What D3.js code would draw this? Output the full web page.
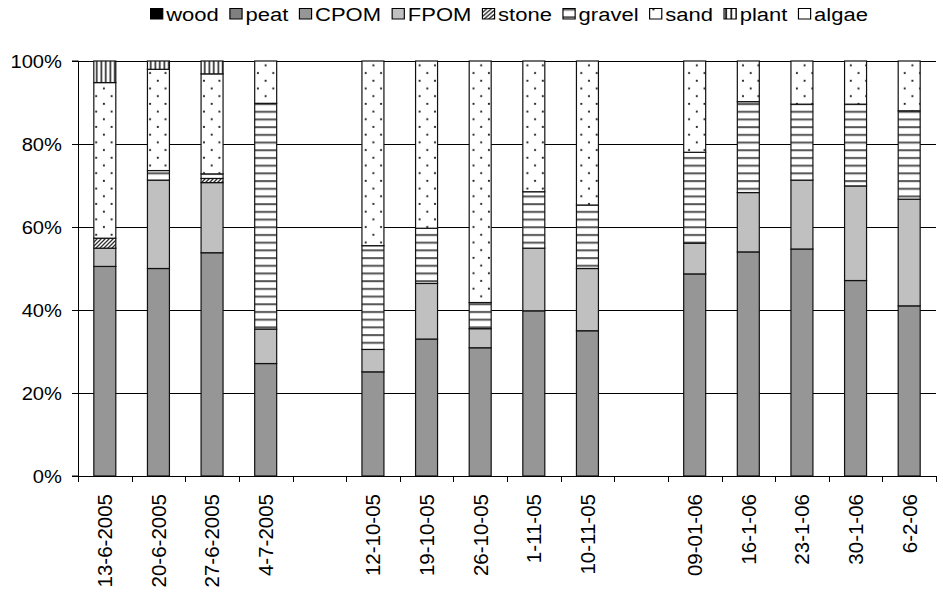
<!DOCTYPE html>
<html>
<head>
<meta charset="utf-8">
<script src="https://cdn.jsdelivr.net/npm/d3@7"></script>
<style>
  html, body { margin: 0; padding: 0; background: #fff; }
  svg { display: block; font-family: "Liberation Sans", Arial, sans-serif; }
</style>
</head>
<body>
<svg id="chart" width="943" height="596"></svg>
<script>
// Sampling dates (empty strings are gaps between campaigns)
const categories = ["13-6-2005","20-6-2005","27-6-2005","4-7-2005","",
  "12-10-05","19-10-05","26-10-05","1-11-05","10-11-05","",
  "09-01-06","16-1-06","23-1-06","30-1-06","6-2-06"];

// Substrate cover per date, in percent
const wood   = [0,0,0,0,0, 0,0,0,0,0, 0, 0,0,0,0,0];
const peat   = [0,0,0,0,0, 0,0,0,0,0, 0, 0,0,0,0,0];
const cpom   = [50.5,50.0,53.8,27.1,0, 25.1,33.0,30.9,39.8,35.0, 0, 48.7,54.0,54.7,47.1,41.0];
const fpom   = [4.4,21.3,16.9,8.3,0, 5.4,13.4,4.6,15.1,15.0, 0, 7.4,14.3,16.6,22.8,25.7];
const stone  = [2.4,0,1.0,0,0, 0,0,0,0,0, 0, 0,0,0,0,0];
const gravel = [0,2.3,1.1,54.4,0, 25.0,13.3,6.3,13.6,15.3, 0, 21.9,21.9,18.3,19.7,21.3];
const sand   = [37.5,24.4,24.1,10.2,0, 44.5,40.3,58.2,31.5,34.7, 0, 22.0,9.8,10.4,10.4,12.0];
const plant  = [5.2,2.0,3.1,0,0, 0,0,0,0,0, 0, 0,0,0,0,0];
const algae  = [0,0,0,0,0, 0,0,0,0,0, 0, 0,0,0,0,0];

const seriesNames = ["wood","peat","CPOM","FPOM","stone","gravel","sand","plant","algae"];
const seriesValues = [wood, peat, cpom, fpom, stone, gravel, sand, plant, algae];
const yTicks = [0, 20, 40, 60, 80, 100];

const svg = d3.select("#chart");
const defs = svg.append("defs");

// Fill patterns
function pattern(id, w, h, draw) {
  const p = defs.append("pattern").attr("id", id)
    .attr("patternUnits", "userSpaceOnUse").attr("width", w).attr("height", h);
  p.append("rect").attr("width", w).attr("height", h).attr("fill", "#fff");
  draw(p);
}
pattern("p-stone", 4, 4, p => {
  p.append("path").attr("d", "M-1,1 L1,-1 M0,4 L4,0 M3,5 L5,3")
    .attr("stroke", "#333").attr("stroke-width", 1.3);
});
pattern("p-gravel", 8, 7.7, p => {
  p.append("rect").attr("x", 0).attr("y", 3).attr("width", 8).attr("height", 2).attr("fill", "#555");
});
pattern("p-sand", 15.4, 15.4, p => {
  p.append("circle").attr("cx", 3.8).attr("cy", 3.8).attr("r", 1.1).attr("fill", "#222");
  p.append("circle").attr("cx", 11.5).attr("cy", 11.5).attr("r", 1.1).attr("fill", "#222");
});
pattern("p-plant", 4.5, 8, p => {
  p.append("rect").attr("x", 1.5).attr("y", 0).attr("width", 1.6).attr("height", 8).attr("fill", "#222");
});

const fills = {
  wood: "#000000", peat: "#808080", CPOM: "#969696", FPOM: "#c0c0c0",
  stone: "url(#p-stone)", gravel: "url(#p-gravel)", sand: "url(#p-sand)",
  plant: "url(#p-plant)", algae: "#ffffff"
};

// Scales
const plotLeft = 78, plotRight = 936, plotTop = 61, plotBottom = 476;
const x = d3.scaleBand().domain(d3.range(categories.length))
  .range([plotLeft, plotRight]).paddingInner(0.59).paddingOuter(0.295);
const y = d3.scaleLinear().domain([0, 100]).range([plotBottom, plotTop]);

// Horizontal gridlines
svg.append("g").selectAll("line").data(yTicks.filter(d => d > 0)).join("line")
  .attr("x1", plotLeft).attr("x2", plotRight)
  .attr("y1", d => Math.round(y(d)) + 0.5).attr("y2", d => Math.round(y(d)) + 0.5)
  .attr("stroke", "#000").attr("stroke-width", 1);

// Stacked bars
const rows = categories.map((c, i) => {
  const r = { i };
  seriesNames.forEach((s, k) => r[s] = seriesValues[k][i]);
  return r;
});
const stacked = d3.stack().keys(seriesNames)(rows);
svg.append("g").selectAll("g").data(stacked).join("g")
  .attr("fill", d => fills[d.key])
  .selectAll("rect").data(d => d.filter(e => e[1] - e[0] > 0)).join("rect")
  .attr("x", d => x(d.data.i))
  .attr("width", x.bandwidth())
  .attr("y", d => y(d[1]))
  .attr("height", d => y(d[0]) - y(d[1]))
  .attr("stroke", "#111").attr("stroke-width", 1.2);

// Y axis
const yAxis = d3.axisLeft(y).tickValues(yTicks).tickSize(6).tickFormat(d => d + "%");
const gy = svg.append("g").attr("transform", `translate(${plotLeft},0)`).call(yAxis);
gy.select(".domain").attr("stroke", "#000").attr("d", `M-6,${plotTop}H0.5V${plotBottom}H-6`);
gy.selectAll(".tick line").attr("stroke", "#000");
gy.selectAll(".tick text")
  .attr("font-size", 18).attr("fill", "#000").attr("x", 0).attr("dy", "0.36em")
  .attr("transform", "translate(-16,0) scale(1.12,1)");

// X axis line with ticks at slot boundaries
const step = x.step();
const tickXs = d3.range(categories.length + 1).map(k => plotLeft + k * step);
svg.append("line").attr("x1", plotLeft).attr("x2", plotRight)
  .attr("y1", plotBottom + 0.5).attr("y2", plotBottom + 0.5).attr("stroke", "#000");
svg.append("g").selectAll("line").data(tickXs).join("line")
  .attr("x1", d => Math.round(d) + 0.5).attr("x2", d => Math.round(d) + 0.5)
  .attr("y1", plotBottom).attr("y2", plotBottom + 6).attr("stroke", "#000");

// Rotated date labels
svg.append("g").selectAll("text").data(categories.map((c, i) => ({ c, i })).filter(d => d.c))
  .join("text")
  .attr("transform", d => `translate(${x(d.i) + x.bandwidth() / 2},494) rotate(-90)`)
  .attr("text-anchor", "end").attr("dy", "0.36em")
  .attr("font-size", 20.5).attr("fill", "#000")
  .text(d => d.c);

// Legend
const lg = svg.append("g");
let cx = 0;
seriesNames.forEach(name => {
  const it = lg.append("g").attr("transform", `translate(${cx},0)`);
  it.append("rect").attr("x", 0.5).attr("y", -12.5).attr("width", 10.5).attr("height", 10.5)
    .attr("fill", fills[name]).attr("stroke", "#000");
  const t = it.append("text").attr("x", 14).attr("y", 0).attr("font-size", 19).attr("fill", "#000").text(name);
  cx += 14 + t.node().getComputedTextLength() + 9;
});
const natural = cx - 9;
const sx = (868 - 150) / natural;
lg.attr("transform", `translate(150,21) scale(${sx},1)`);
</script>
</body>
</html>
